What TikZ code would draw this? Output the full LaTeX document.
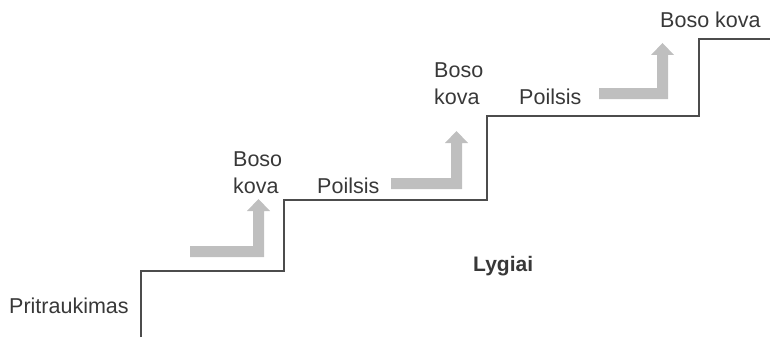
\documentclass[tikz,border=0pt]{standalone}
\usepackage{fontspec}
\setmainfont{Liberation Sans}
\begin{document}
\begin{tikzpicture}[x=1pt,y=-1pt,
  label/.style={inner sep=0pt,anchor=base west,text=black!78,
    font=\fontsize{21.5}{27}\selectfont,align=left},
  stair/.style={draw=black!70,line width=1.4pt},
  bentarrow/.style={fill=black!25,draw=none}]
\useasboundingbox (0,0) rectangle (770,337);

% staircase of levels
\coordinate (s0) at (141,337);
\coordinate (s1) at (141,271);
\coordinate (s2) at (284,271);
\coordinate (s3) at (284,200);
\coordinate (s4) at (487,200);
\coordinate (s5) at (487,116);
\coordinate (s6) at (699,116);
\coordinate (s7) at (699,39);
\coordinate (s8) at (771,39);
\draw[stair] (s0) -- (s1) -- (s2) -- (s3) -- (s4) -- (s5) -- (s6) -- (s7) -- (s8);

% bent arrows: horizontal bar, vertical shaft, head
\fill[bentarrow] (190,246) -- (253,246) -- (253,211) -- (247,211) -- (258.5,199)
  -- (270,211) -- (264,211) -- (264,257) -- (190,257) -- cycle;
\fill[bentarrow] (391,178) -- (451,178) -- (451,143) -- (445,143) -- (456.5,131)
  -- (468,143) -- (462,143) -- (462,189) -- (391,189) -- cycle;
\fill[bentarrow] (599,88) -- (657,88) -- (657,55) -- (651,55) -- (662.5,43)
  -- (674,55) -- (668,55) -- (668,99) -- (599,99) -- cycle;

% labels (multi-line nodes sit on the baseline of their last line)
\node[label] (pr) at (9,313) {Pritraukimas};
\node[label] (b1) at (233,193) {Boso\\kova};
\node[label] (p1) at (317,193) {Poilsis};
\node[label] (b2) at (434,104) {Boso\\kova};
\node[label] (p2) at (519,104) {Poilsis};
\node[label] (b3) at (660,28) {Boso kova};
\node[label,font=\bfseries\fontsize{21}{25}\selectfont] (ly) at (473,271) {Lygiai};
\end{tikzpicture}
\end{document}
